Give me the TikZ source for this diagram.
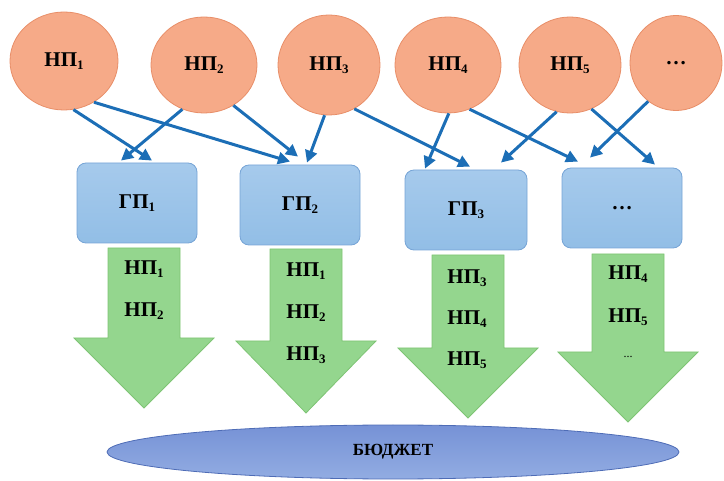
\documentclass[tikz,border=0pt]{standalone}
\usepackage{fontspec}
\setmainfont{Liberation Serif}
\usetikzlibrary{shapes.geometric, arrows.meta}
\definecolor{npfill}{RGB}{246,170,136}
\definecolor{npline}{RGB}{232,142,104}
\definecolor{gptop}{RGB}{166,202,236}
\definecolor{gpbottom}{RGB}{146,190,230}
\definecolor{gpline}{RGB}{118,164,214}
\definecolor{flowfill}{RGB}{148,214,142}
\definecolor{flowline}{RGB}{126,196,116}
\definecolor{linkblue}{RGB}{28,110,182}
\definecolor{budtop}{RGB}{118,146,214}
\definecolor{budbottom}{RGB}{146,172,226}
\definecolor{budline}{RGB}{78,108,182}
\newcommand{\subidx}[1]{{\fontsize{13}{15}\selectfont\raisebox{-3pt}{#1}}}
\newcommand{\np}[1]{НП\subidx{#1}}
\newcommand{\gp}[1]{ГП\subidx{#1}}
\newcommand{\flowarrow}[4]{\draw[flow] (#1-36,#2) -- (#1+36,#2) -- (#1+36,#3) -- (#1+70,#3) -- (#1,#4) -- (#1-70,#3) -- (#1-36,#3) -- cycle;}
\tikzset{
  npnode/.style={ellipse, draw=npline, fill=npfill, line width=0.8pt, font=\fontsize{21}{24}\selectfont\bfseries},
  gpnode/.style={rectangle, rounded corners=9pt, draw=gpline, top color=gptop, bottom color=gpbottom, line width=0.8pt, minimum width=120pt, minimum height=80pt, font=\fontsize{21}{24}\selectfont\bfseries},
  flow/.style={draw=flowline, fill=flowfill, line width=0.8pt},
  flowtext/.style={font=\fontsize{21}{24}\selectfont\bfseries},
  link/.style={draw=linkblue, line width=3pt, -{Triangle[length=12pt,width=12pt]}},
}

\begin{document}
\begin{tikzpicture}[x=1pt, y=-1pt]
    \useasboundingbox (0,0) rectangle (724,481);
    % нормативные правовые акты
    \node (np1) at (64,61)  [npnode, minimum width=108pt, minimum height=98pt]  {\np{1}};
    \node (np2) at (204,65) [npnode, minimum width=106pt, minimum height=96pt]  {\np{2}};
    \node (np3) at (329,65) [npnode, minimum width=102pt, minimum height=100pt] {\np{3}};
    \node (np4) at (448,65) [npnode, minimum width=106pt, minimum height=96pt]  {\np{4}};
    \node (np5) at (570,65) [npnode, minimum width=102pt, minimum height=96pt]  {\np{5}};
    \node (np6) at (676,63) [npnode, minimum width=92pt, minimum height=95pt]   {…};
    % программы
    \node (gp1) at (137,203) [gpnode] {\gp{1}};
    \node (gp2) at (300,205) [gpnode] {\gp{2}};
    \node (gp3) at (466,210) [gpnode, minimum width=122pt] {\gp{3}};
    \node (gp4) at (622,208) [gpnode] {…};
    \draw[link] (np1.-79)  -- ([xshift=15pt,yshift=2pt]gp1.north);
    \draw[link] (np1.-54)  -- ([xshift=-10pt,yshift=3pt]gp2.north);
    \draw[link] (np2.-116) -- ([xshift=-16pt,yshift=2pt]gp1.north);
    \draw[link] (np2.-54)  -- ([xshift=-2pt,yshift=8pt]gp2.north);
    \draw[link] (np3.-95)  -- ([xshift=7pt,yshift=2pt]gp2.north);
    \draw[link] (np3.-60)  -- ([xshift=4pt,yshift=3pt]gp3.north);
    \draw[link] (np4.-89)  -- ([xshift=-41pt,yshift=1pt]gp3.north);
    \draw[link] (np4.-64)  -- ([xshift=-44pt,yshift=6pt]gp4.north);
    \draw[link] (np5.-106) -- ([xshift=35pt,yshift=7pt]gp3.north);
    \draw[link] (np5.-64)  -- ([xshift=33pt,yshift=3pt]gp4.north);
    \draw[link] (np6.-126) -- ([xshift=-32pt,yshift=10pt]gp4.north);
    % потоки в бюджет
    \flowarrow{144}{248}{338}{408}
    \flowarrow{306}{249}{341}{413}
    \flowarrow{468}{255}{348}{418}
    \flowarrow{628}{254}{352}{422}
    \node (f1a) at (144,269) [flowtext] {\np{1}};
    \node (f1b) at (144,311) [flowtext] {\np{2}};
    \node (f2a) at (306,271) [flowtext] {\np{1}};
    \node (f2b) at (306,313) [flowtext] {\np{2}};
    \node (f2c) at (306,355) [flowtext] {\np{3}};
    \node (f3a) at (467,278) [flowtext] {\np{3}};
    \node (f3b) at (467,319) [flowtext] {\np{4}};
    \node (f3c) at (467,360) [flowtext] {\np{5}};
    \node (f4a) at (628,274) [flowtext] {\np{4}};
    \node (f4b) at (628,317) [flowtext] {\np{5}};
    \node (f4c) at (628,357) [font=\fontsize{12}{14}\selectfont] {...};
    \node (budget) at (393,452) [ellipse, draw=budline, top color=budtop, bottom color=budbottom, line width=0.8pt, minimum width=572pt, minimum height=54pt, font=\fontsize{17}{20}\selectfont\bfseries] {БЮДЖЕТ};
\end{tikzpicture}
\end{document}
